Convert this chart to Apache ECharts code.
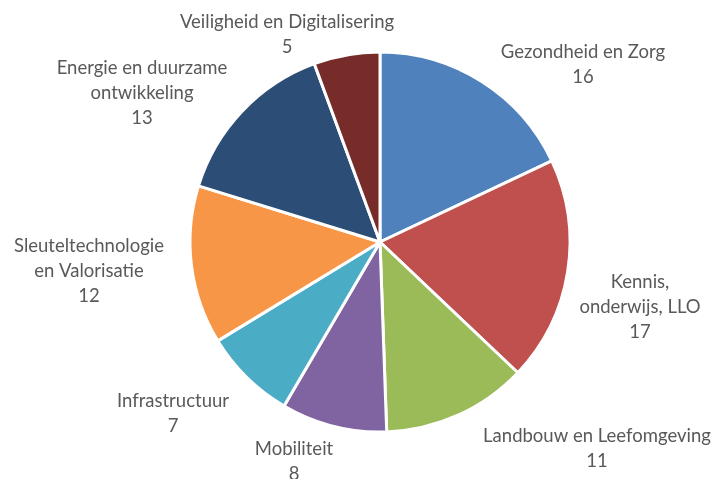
<!DOCTYPE html>
<html>
<head>
<meta charset="utf-8">
<script src="https://cdn.jsdelivr.net/npm/echarts@6/dist/echarts.min.js"></script>
<style>
  html, body { margin: 0; padding: 0; background: #fff; }
  #main { width: 715px; height: 479px; }
</style>
</head>
<body>
<div id="main"></div>
<script>
const categories = [
  'Gezondheid en Zorg',
  'Kennis,\nonderwijs, LLO',
  'Landbouw en Leefomgeving',
  'Mobiliteit',
  'Infrastructuur',
  'Sleuteltechnologie\nen Valorisatie',
  'Energie en duurzame\nontwikkeling',
  'Veiligheid en Digitalisering'
];
const values = [16, 17, 11, 8, 7, 12, 13, 5];
const colors = ['#4F81BD', '#C0504D', '#9BBB59', '#8064A2', '#4BACC6', '#F79646', '#2C4D75', '#772C2A'];

// label centres (Excel put them by hand-ish "best fit")
const labelSpots = [
  [583, 65], [640, 307], [597, 449], [294, 462],
  [173, 414], [89, 271], [142, 93], [287, 35]
];

const chart = echarts.init(document.getElementById('main'));

const option = {
  animation: false,
  color: colors,
  series: [
    {
      type: 'pie',
      center: [380, 242],
      radius: 190,
      startAngle: 90,
      clockwise: true,
      itemStyle: { borderColor: '#fff', borderWidth: 3 },
      label: {
        show: true,
        position: 'outside',
        formatter: '{b}\n{c}',
        color: '#595959',
        fontFamily: 'Lato',
        fontSize: 18.5,
        lineHeight: 25,
        align: 'center',
        overflow: 'none',
        width: 400
      },
      labelLine: { show: false },
      labelLayout: function (p) {
        const s = labelSpots[p.dataIndex];
        return { x: s[0], y: s[1], align: 'center', verticalAlign: 'middle' };
      },
      emphasis: { disabled: true },
      data: categories.map((c, i) => ({ name: c, value: values[i] }))
    }
  ]
};

chart.setOption(option);
</script>
</body>
</html>
